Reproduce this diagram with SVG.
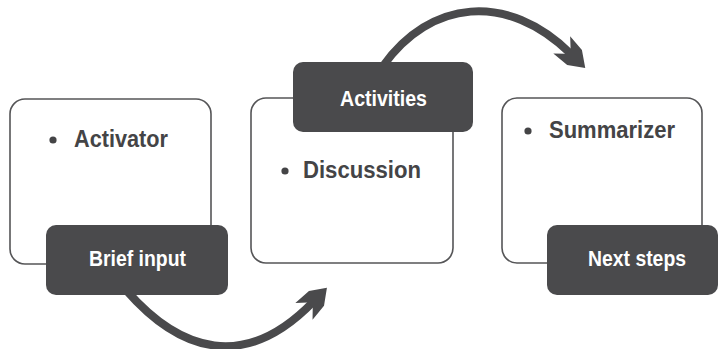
<svg xmlns="http://www.w3.org/2000/svg" width="720" height="349" viewBox="0 0 720 349">
<style>
.card{fill:#ffffff;stroke:#555557;stroke-width:1.6}
.tab{fill:#4a4a4c}
.lbl{font-family:"Liberation Sans",Arial,sans-serif;font-weight:bold;font-size:22px;fill:#ffffff;text-anchor:middle}
.item{font-family:"Liberation Sans",Arial,sans-serif;font-weight:bold;font-size:23.5px;fill:#444446}
.dot{fill:#444446}
.flow{fill:none;stroke:#4a4a4c;stroke-width:8}
</style>
<defs>
<marker id="head" markerUnits="userSpaceOnUse" markerWidth="40" markerHeight="30" viewBox="-36 -15 40 30" refX="-20" refY="0" orient="auto">
<path d="M 0 0 L -15 -10.5 L -33 -12 L -24 -3.5 L -24 3.5 L -33 12 L -15 10.5 Z" fill="#4a4a4c"/>
</marker>
</defs>
<g id="connectors">
<path class="flow" d="M 126 290 C 180 352, 245 372, 313 302" marker-end="url(#head)"/>
<path class="flow" d="M 383 66 C 430 0, 507 -9, 571 54" marker-end="url(#head)"/>
</g>
<g id="node-activator">
<rect class="card" x="10" y="99" width="201" height="165" rx="15"/>
<circle class="dot" cx="53" cy="140" r="3.6"/>
<text class="item" x="74" y="147" textLength="94" lengthAdjust="spacingAndGlyphs">Activator</text>
</g>
<g id="node-discussion">
<rect class="card" x="251" y="98" width="202" height="165" rx="15"/>
<circle class="dot" cx="285" cy="171" r="3.6"/>
<text class="item" x="303" y="178" textLength="118" lengthAdjust="spacingAndGlyphs">Discussion</text>
</g>
<g id="node-summarizer">
<rect class="card" x="502" y="98" width="200" height="165" rx="15"/>
<circle class="dot" cx="528" cy="131" r="3.6"/>
<text class="item" x="549" y="138" textLength="126" lengthAdjust="spacingAndGlyphs">Summarizer</text>
</g>
<g id="node-brief-input">
<rect class="tab" x="46" y="225" width="182" height="70" rx="10"/>
<text class="lbl" x="137.5" y="266" textLength="97" lengthAdjust="spacingAndGlyphs">Brief input</text>
</g>
<g id="node-activities">
<rect class="tab" x="293" y="62" width="180" height="70" rx="10"/>
<text class="lbl" x="383.5" y="106" textLength="87" lengthAdjust="spacingAndGlyphs">Activities</text>
</g>
<g id="node-next-steps">
<rect class="tab" x="547" y="225" width="171" height="70" rx="10"/>
<text class="lbl" x="637" y="266" textLength="98" lengthAdjust="spacingAndGlyphs">Next steps</text>
</g>
</svg>
